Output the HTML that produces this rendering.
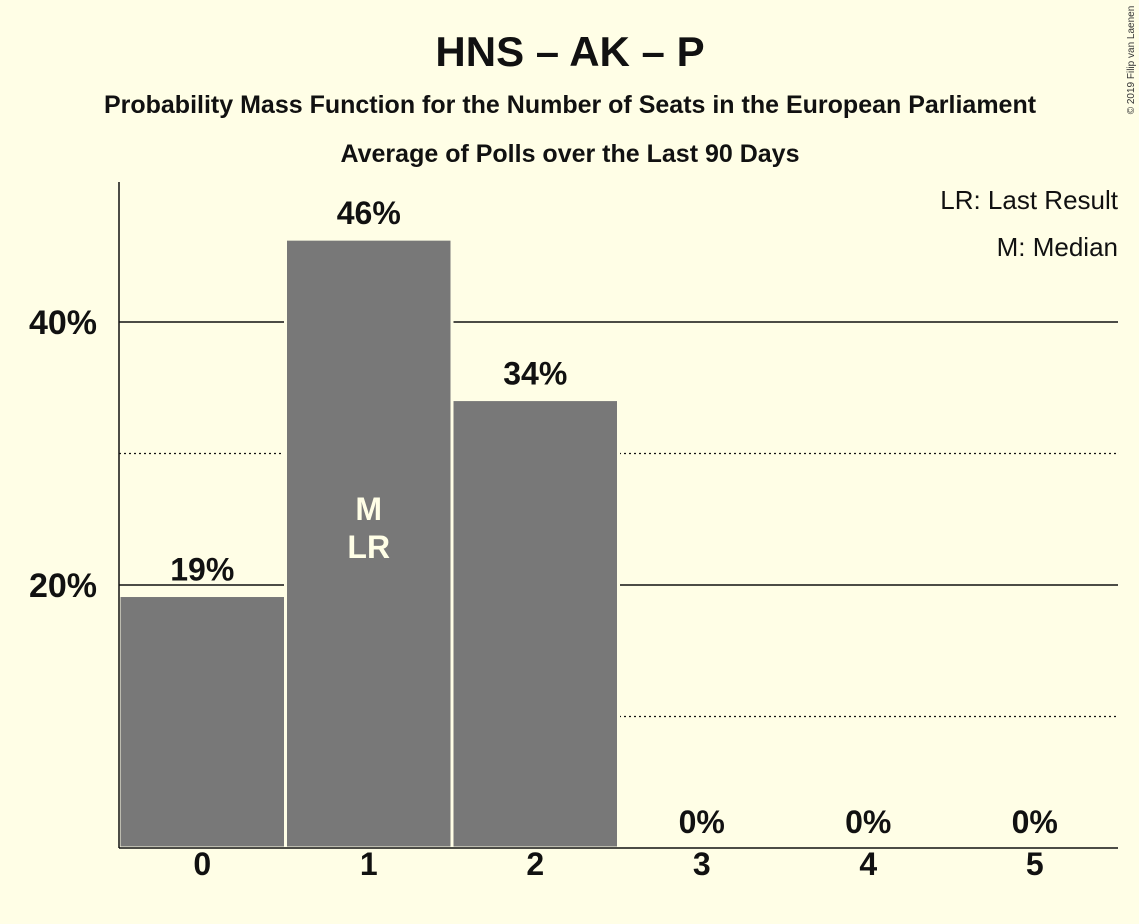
<!DOCTYPE html>
<html><head><meta charset="utf-8"><style>
body{margin:0;background:#FFFEE6;}
svg{display:block;font-family:"Liberation Sans",sans-serif;}
</style></head><body>
<svg width="1139" height="924">
<rect width="1139" height="924" fill="#FFFEE6"/>
<text x="570" y="66" text-anchor="middle" font-size="42" font-weight="bold" fill="#111">HNS – AK – P</text>
<text x="570" y="113" text-anchor="middle" font-size="25" font-weight="bold" fill="#111">Probability Mass Function for the Number of Seats in the European Parliament</text>
<text x="570" y="162" text-anchor="middle" font-size="25" font-weight="bold" fill="#111">Average of Polls over the Last 90 Days</text>
<text x="1118" y="209" text-anchor="end" font-size="26" fill="#111">LR: Last Result</text>
<text x="1118" y="256" text-anchor="end" font-size="26" fill="#111">M: Median</text>
<text transform="translate(1134,60) rotate(-90)" text-anchor="middle" font-size="10" fill="#333">© 2019 Filip van Laenen</text>
<g id="grid"></g><g id="bars"></g><g id="labels"></g>
<line x1="119" y1="182" x2="119" y2="848" stroke="#111" stroke-width="1.5"/>
<line x1="119" y1="848" x2="1118" y2="848" stroke="#111" stroke-width="1.5"/>
</svg>
<script>
const categories=[0,1,2,3,4,5];
const values=[19.2,46.3,34.1,0,0,0];
const valueLabels=["19%","46%","34%","0%","0%","0%"];
const markers=["","M\nLR","","","",""];
const gridValues=[10,20,30,40];
const tickLabels={20:"20%",40:"40%"};
const NS="http://www.w3.org/2000/svg";
const x0=119,x1=1118,y0=848,pxPer=263/20;
const band=(x1-x0)/categories.length;
const y=v=>y0-v*pxPer;
const xs=i=>x0+i*band;
function mk(t,a,p){const e=document.createElementNS(NS,t);for(const k in a)e.setAttribute(k,a[k]);p.appendChild(e);return e;}
const g=document.getElementById('grid'),b=document.getElementById('bars'),l=document.getElementById('labels');
gridValues.forEach(v=>{
 const major=v%20===0;
 const ln=mk('line',{x1:x0,x2:x1,y1:y(v),y2:y(v),stroke:'#111','stroke-width':major?1.5:1.2,'stroke-dasharray':major?'':'2,3'},g);
 
 
 if(tickLabels[v]){const t=mk('text',{x:97,y:y(v)+12,'text-anchor':'end','font-size':34,'font-weight':'bold',fill:'#111'},g);t.textContent=tickLabels[v];
 
 }
});
categories.forEach((c,i)=>{
 if(values[i]>0){const r=mk('rect',{x:xs(i),y:y(values[i]),width:band,height:y0-y(values[i]),fill:'#787878',stroke:'#FFFEE6','stroke-width':3},b);
 
 }
 const cx=xs(i)+band/2;
 const vt=mk('text',{x:cx,y:y(values[i])-15,'text-anchor':'middle','font-size':32,'font-weight':'bold',fill:'#111'},l);vt.textContent=valueLabels[i];
 
 
 const xt=mk('text',{x:cx,y:875,'text-anchor':'middle','font-size':32,'font-weight':'bold',fill:'#111'},l);xt.textContent=c;
 
 
 if(markers[i]){markers[i].split('\n').forEach((m,j)=>{const t=mk('text',{x:cx,y:520+j*38,'text-anchor':'middle','font-size':32,'font-weight':'bold',fill:'#FFFEE6'},l);t.textContent=m;
 
 });}
});
</script>
</body></html>
